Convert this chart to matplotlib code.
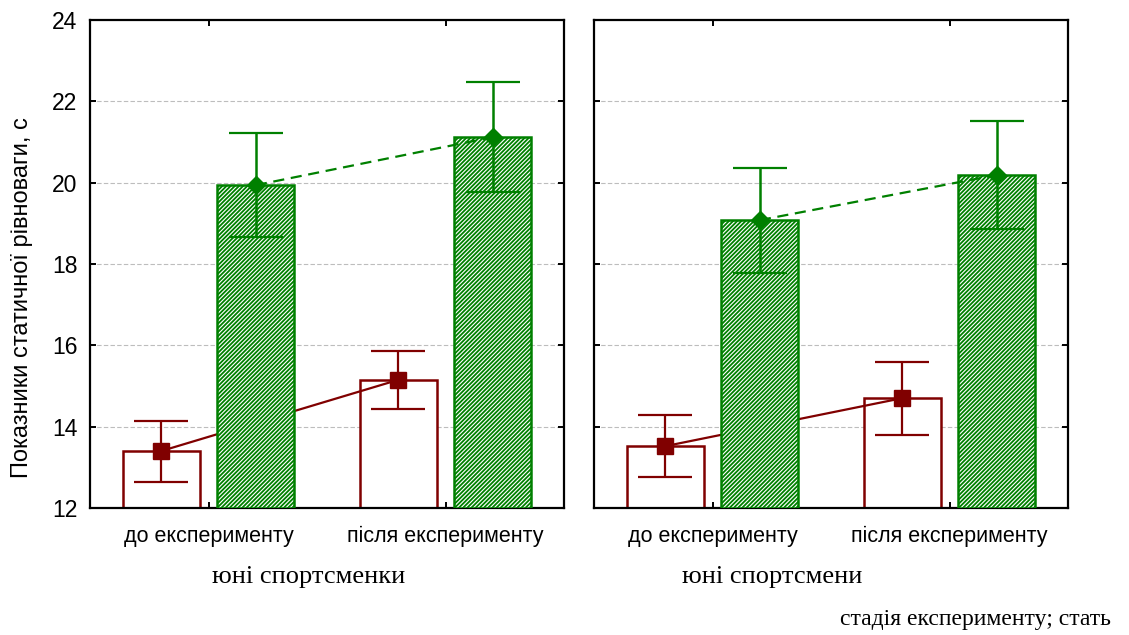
import numpy as np
import matplotlib
matplotlib.use('Agg')
import matplotlib.pyplot as plt

plt.rcParams['font.family'] = ['Liberation Sans', 'DejaVu Sans']
plt.rcParams['hatch.linewidth'] = 1.3

stages = ['до експерименту', 'після експерименту']
groups = ['юні спортсменки', 'юні спортсмени']

# mean and half-width of the error bar, per group, per stage
red_mean = [[13.40, 15.15], [13.52, 14.70]]
red_err = [[0.75, 0.72], [0.76, 0.90]]
green_mean = [[19.94, 21.12], [19.08, 20.19]]
green_err = [[1.28, 1.36], [1.29, 1.33]]

maroon = '#800000'
green = '#008000'

W, H = 1129, 635
fig = plt.figure(figsize=(W / 100, H / 100), dpi=100)

panel_left = [90, 594]
axes = []
for g in range(2):
    ax = fig.add_axes([panel_left[g] / W, (H - 508) / H, 474 / W, 488 / H])
    axes.append(ax)
    x = np.arange(len(stages))
    xr = x - 0.2
    xg = x + 0.2
    bw = 0.325

    ax.bar(xr, np.array(red_mean[g]) - 12, bottom=12, width=bw, facecolor='white',
           edgecolor=maroon, linewidth=1.8, zorder=1)
    ax.plot(xr, red_mean[g], color=maroon, lw=1.6, zorder=2)
    ax.bar(xg, np.array(green_mean[g]) - 12, bottom=12, width=bw, facecolor='white',
           edgecolor=green, hatch='////////', linewidth=1.8, zorder=3)
    ax.plot(xg, green_mean[g], color=green, lw=1.6, ls=(0, (5, 3)), zorder=4)

    ax.errorbar(xr, red_mean[g], yerr=red_err[g], fmt='s', color=maroon, ms=11,
                capsize=19.5, elinewidth=1.6, capthick=1.6, zorder=5)
    ax.errorbar(xg, green_mean[g], yerr=green_err[g], fmt='D', color=green, ms=9,
                capsize=19.5, elinewidth=1.8, capthick=1.6, zorder=5)

    ax.set_xlim(-0.5, 1.5)
    ax.set_ylim(12, 24)
    ax.set_yticks(np.arange(12, 25, 2))
    ax.set_xticks(x)
    ax.set_xticklabels(stages, fontsize=15.5)
    for yv in range(14, 24, 2):
        ax.axhline(yv, color='#bdbdbd', lw=0.8, ls=(0, (4, 2)), zorder=0)
    ax.tick_params(direction='in', length=4, width=1.4, top=True, right=True,
                   labelsize=16.5, pad=9)
    ax.tick_params(axis='x', pad=13, labelsize=15.5)
    for s in ax.spines.values():
        s.set_linewidth(1.6)
    if g == 1:
        ax.set_yticklabels([])

axes[0].set_ylabel('Показники статичної рівноваги, с', fontsize=17)
axes[0].yaxis.set_label_coords(-0.12, 0.432)

fig.text(309 / W, 1 - 577 / H, groups[0], family='Liberation Serif', fontsize=19,
         ha='center', va='center')
fig.text(772 / W, 1 - 577 / H, groups[1], family='Liberation Serif', fontsize=19,
         ha='center', va='center')
fig.text(1111 / W, 1 - 620 / H, 'стадія експерименту; стать', family='Liberation Serif',
         fontsize=17, ha='right', va='center')

fig.savefig('out.png', dpi=100)
